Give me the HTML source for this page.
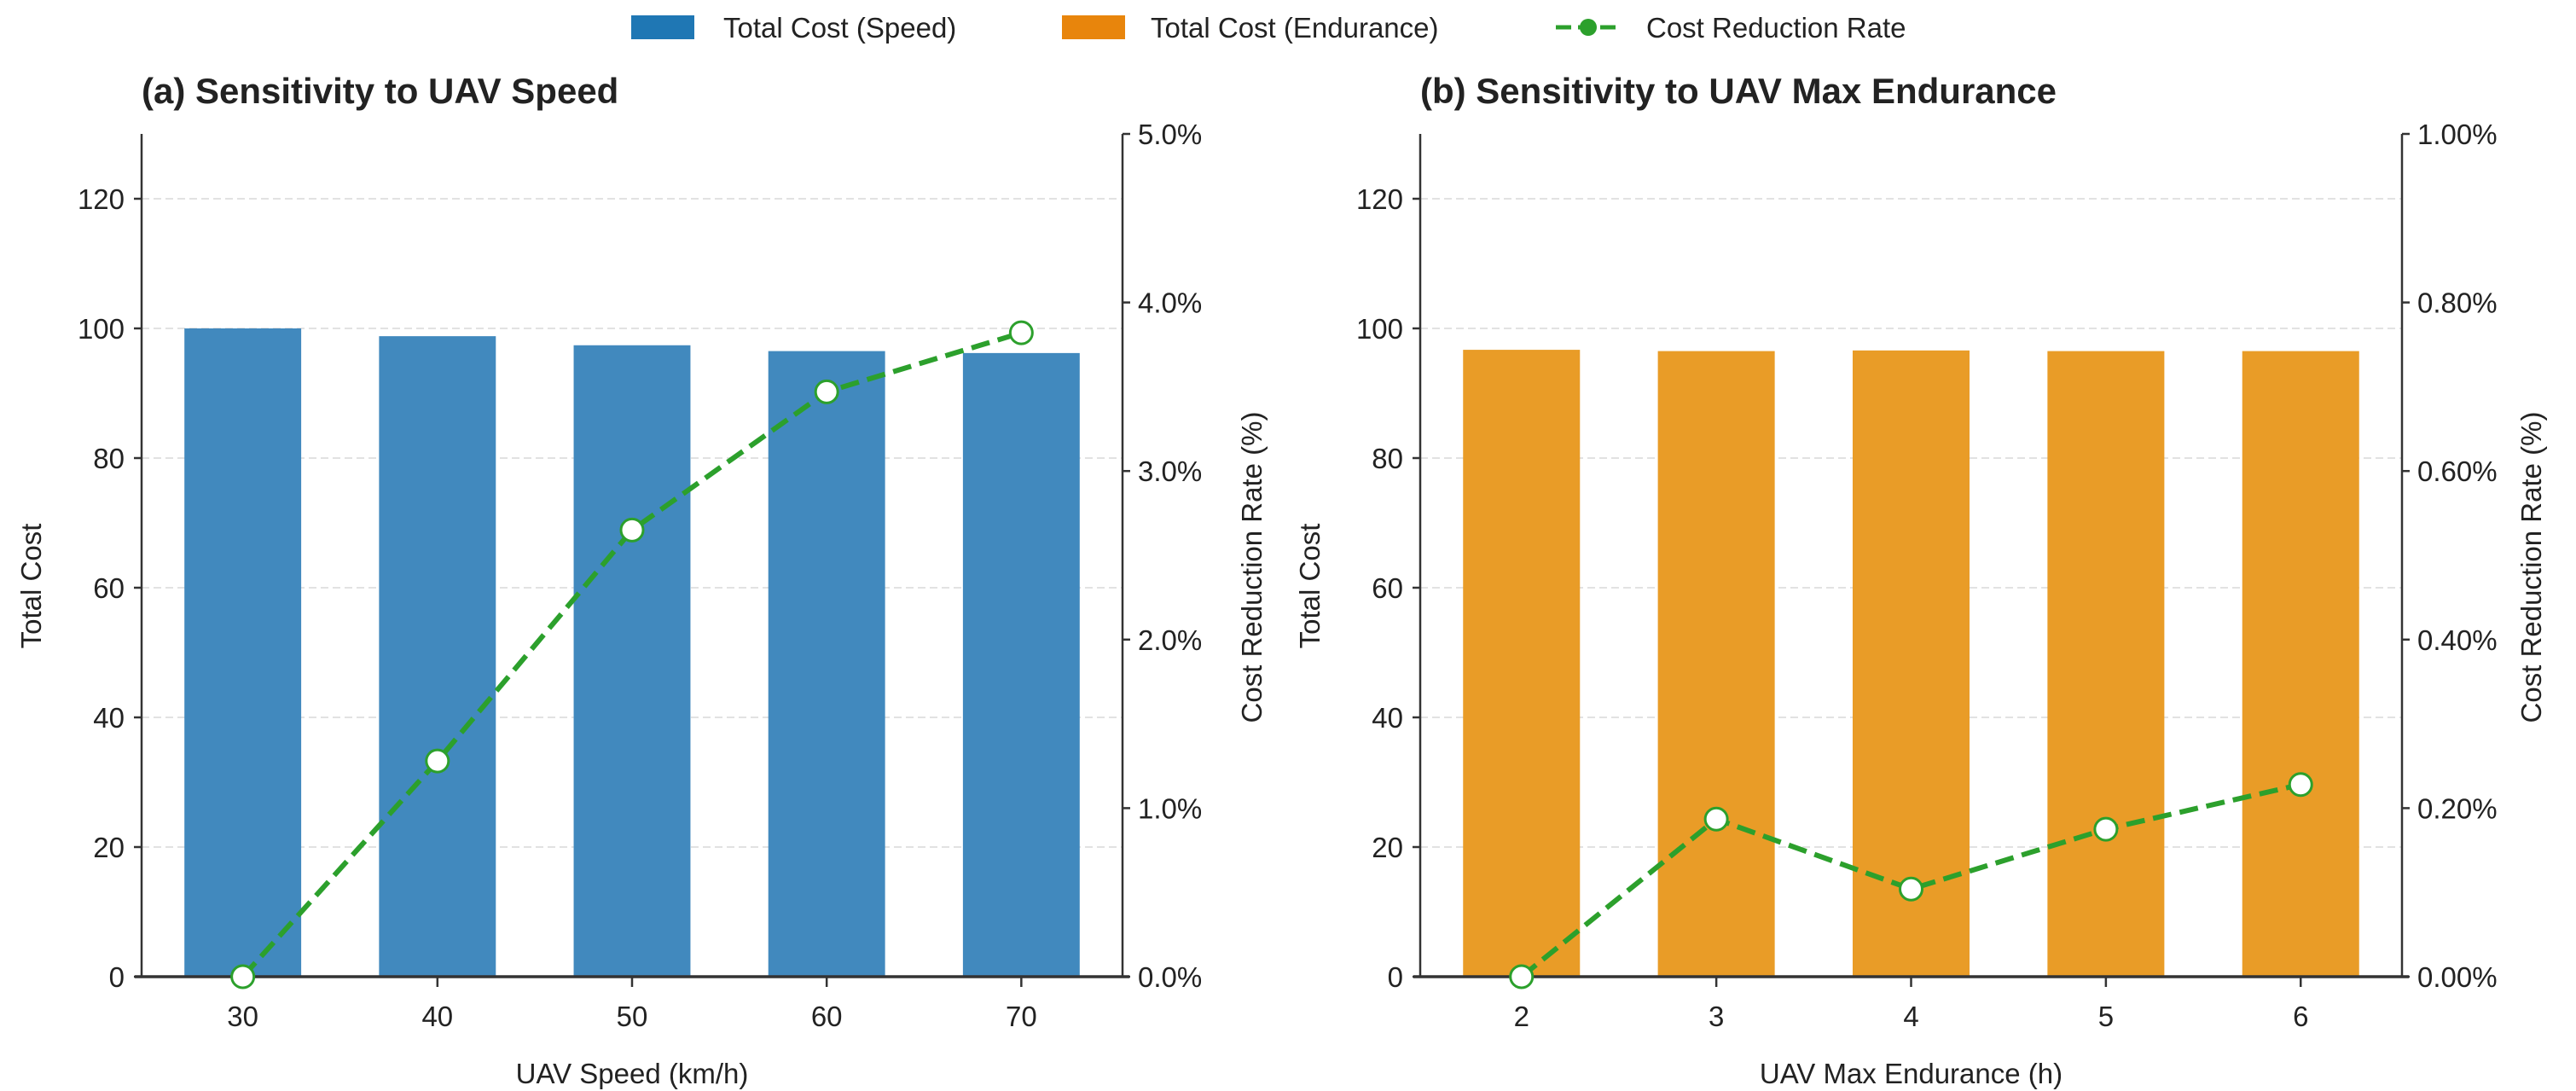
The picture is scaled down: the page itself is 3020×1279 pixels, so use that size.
<!DOCTYPE html>
<html><head><meta charset="utf-8"><style>
html,body{margin:0;padding:0;background:#fff}
svg{display:block;font-family:"Liberation Sans",Arial,sans-serif}
</style></head><body>
<svg id="chart" width="3020" height="1279" viewBox="0 0 3020 1279">
<g>
  <g><rect x="740" y="18" width="74" height="28" fill="#1f77b4"/><text x="848" y="44" font-size="33" fill="#222">Total Cost (Speed)</text></g>
  <g><rect x="1245" y="18" width="74" height="28" fill="#e8850c"/><text x="1349" y="44" font-size="33" fill="#222">Total Cost (Endurance)</text></g>
  <g><line x1="1824" y1="32" x2="1901" y2="32" stroke="#2ca02c" stroke-width="5" stroke-dasharray="18,8"/><circle cx="1862" cy="32" r="10" fill="#2ca02c"/><text x="1930" y="44" font-size="33" fill="#222">Cost Reduction Rate</text></g>
</g>
<g id="pa"></g>
<g id="pb"></g>
</svg>
<script>
const speedCats = ["30","40","50","60","70"];
const speedCost = [100.0, 98.8, 97.4, 96.5, 96.2];
const speedRate = [0.0, 1.28, 2.65, 3.47, 3.82];
const endCats = ["2","3","4","5","6"];
const endCost = [96.7, 96.5, 96.6, 96.5, 96.5];
const endRate = [0.0, 0.187, 0.104, 0.175, 0.228];
const leftTicks = [0,20,40,60,80,100,120];
const speedRateTicks = [0,1,2,3,4,5];
const endRateTicks = [0,0.2,0.4,0.6,0.8,1.0];

const NS="http://www.w3.org/2000/svg";
function mk(parent, tag, attrs, text){
  const e=document.createElementNS(NS,tag);
  for(const k in attrs) e.setAttribute(k,attrs[k]);
  if(text!==undefined) e.textContent=text;
  parent.appendChild(e); return e;
}
function panel(gid, cfg){
  const g=document.getElementById(gid);
  const L=cfg.left, R=cfg.right, T=157, B=1145;
  const yL=v=>B-(v/130)*(B-T);
  const yR=v=>B-(v/cfg.rmax)*(B-T);
  const step=(R-L)/5.04;
  const xs=i=>L+step*(0.52+i);
  cfg.ticks.forEach(t=>{ if(t>0){
    const gl=mk(g,'line',{x1:L,x2:R,y1:yL(t),y2:yL(t),stroke:'#e2e2e2','stroke-width':2,'stroke-dasharray':'9,5'});
    
    
  }});
  cfg.cost.forEach((v,i)=>{
    const r=mk(g,'rect',{x:xs(i)-step*0.3,y:yL(v),width:step*0.6,height:B-yL(v),fill:cfg.color});
    
    
  });
  mk(g,'line',{x1:L,x2:L,y1:T,y2:B+1,stroke:'#333','stroke-width':2.5});
  mk(g,'line',{x1:R,x2:R,y1:T,y2:B+1,stroke:'#333','stroke-width':2.5});
  mk(g,'line',{x1:L-8,x2:R+8,y1:B,y2:B,stroke:'#333','stroke-width':3.5});
  cfg.ticks.forEach(t=>{
    mk(g,'line',{x1:L-9,x2:L,y1:yL(t),y2:yL(t),stroke:'#333','stroke-width':2.5});
    const tx=mk(g,'text',{x:L-20,y:yL(t)+12,'font-size':33,'text-anchor':'end',fill:'#222'},String(t));
    
    
  });
  cfg.rticks.forEach(t=>{
    mk(g,'line',{x1:R,x2:R+9,y1:yR(t),y2:yR(t),stroke:'#333','stroke-width':2.5});
    const tx=mk(g,'text',{x:R+18,y:yR(t)+12,'font-size':33,fill:'#222'},t.toFixed(cfg.dec)+'%');
    
    
  });
  cfg.cats.forEach((c,i)=>{
    mk(g,'line',{x1:xs(i),x2:xs(i),y1:B,y2:B+12,stroke:'#333','stroke-width':2.5});
    const tx=mk(g,'text',{x:xs(i),y:B+58,'font-size':33,'text-anchor':'middle',fill:'#222'},c);
    
    
  });
  const pts=cfg.rate.map((v,i)=>xs(i)+','+yR(v)).join(' ');
  const pl=mk(g,'polyline',{points:pts,fill:'none',stroke:'#2ca02c','stroke-width':6,'stroke-dasharray':'22,10'});
  
  
  cfg.rate.forEach((v,i)=>{
    const c=mk(g,'circle',{cx:xs(i),cy:yR(v),r:13,fill:'#fff',stroke:'#2ca02c','stroke-width':3});
    
    
  });
  const ti=mk(g,'text',{x:L,y:121,'font-size':42,'font-weight':'bold',fill:'#222'},cfg.title);
  
  
  const xl=mk(g,'text',{x:(L+R)/2,y:B+125,'font-size':33,'text-anchor':'middle',fill:'#222'},cfg.xlabel);
  
  
  const yl=mk(g,'text',{x:0,y:0,'font-size':33,'text-anchor':'middle',fill:'#222',transform:`translate(${L-118},${(T+B)/2+36}) rotate(-90)`},'Total Cost');
  
  
  const yr=mk(g,'text',{x:0,y:0,'font-size':33,'text-anchor':'middle',fill:'#222',transform:`translate(${R+163},${(T+B)/2+14}) rotate(-90)`},'Cost Reduction Rate (%)');
  
  
}
panel('pa',{left:166,right:1316,cats:speedCats,cost:speedCost,rate:speedRate,color:'#4189be',ticks:leftTicks,rticks:speedRateTicks,rmax:5,dec:1,title:'(a) Sensitivity to UAV Speed',xlabel:'UAV Speed (km/h)'});
panel('pb',{left:1665,right:2816,cats:endCats,cost:endCost,rate:endRate,color:'#e99c27',ticks:leftTicks,rticks:endRateTicks,rmax:1,dec:2,title:'(b) Sensitivity to UAV Max Endurance',xlabel:'UAV Max Endurance (h)'});
</script>
</body></html>
